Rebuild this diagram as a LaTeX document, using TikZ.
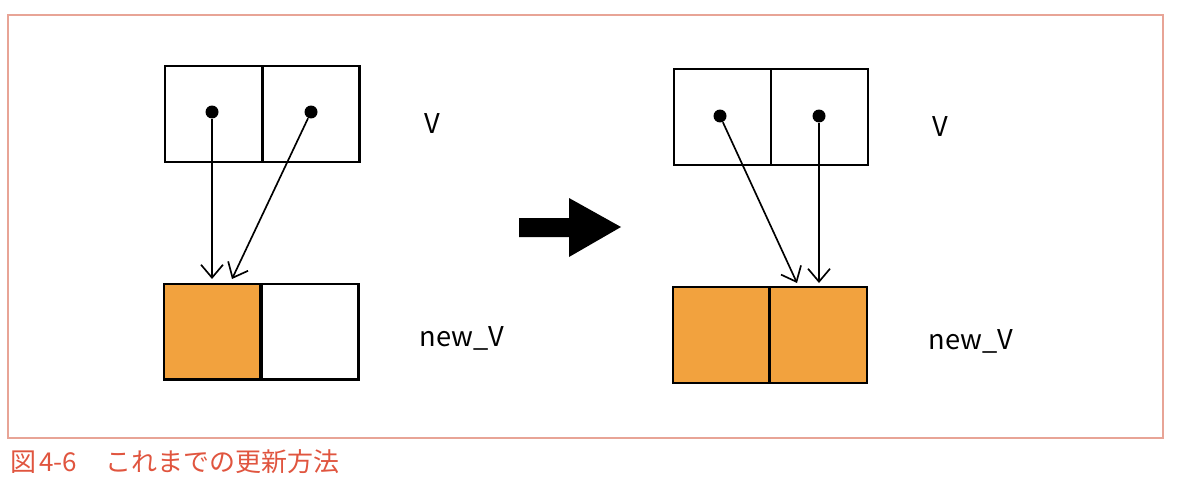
\documentclass[tikz,border=0pt]{standalone}
\usepackage{fontspec}
\setmainfont{Noto Sans CJK JP}
\usetikzlibrary{arrows.meta}
\definecolor{cellfill}{HTML}{F2A23E}
\definecolor{framecol}{HTML}{E8A496}
\definecolor{captioncol}{HTML}{E0553F}
\tikzset{
  cell/.style={draw, line width=1.15pt, minimum width=1.94cm, minimum height=1.92cm, inner sep=0pt},
  filled/.style={cell, fill=cellfill},
  dot/.style={circle, fill, inner sep=0pt, minimum size=0.26cm},
  ptr/.style={line width=0.95pt, -{Straight Barb[length=2.6mm, width=4.4mm, line width=0.95pt]}},
  lbl/.style={font=\fontsize{15.5pt}{18pt}\selectfont}
}
\begin{document}
\begin{tikzpicture}[x=0.02cm, y=-0.02cm]
\useasboundingbox (0,0) rectangle (1182,483);

\draw[framecol, line width=0.8pt] (8,15) rectangle (1163,438);

\node[cell] (lv1) at (213.5,114) {};
\node[cell] (lv2) at (311,114) {};
\node[filled] (ln1) at (212,331.5) {};
\node[cell] (ln2) at (310,331.5) {};
\node[dot] (lp1) at (212,112) {};
\node[dot] (lp2) at (311,112) {};
\coordinate (le1) at (212,279);
\coordinate (le2) at (232,279);
\draw[ptr] (lp1) -- (le1);
\draw[ptr] (lp2) -- (le2);
\node[lbl] (lvname) at (432,124) {V};
\node[lbl] (lnname) at (462,338) {new\_V};

\fill (519,218) -- (569,218) -- (569,198) -- (621,227) -- (569,257) -- (569,237) -- (519,237) -- cycle;

\node[cell] (rv1) at (722.5,117) {};
\node[cell] (rv2) at (819.5,117) {};
\node[filled] (rn1) at (721,335) {};
\node[filled] (rn2) at (818.5,335) {};
\node[dot] (rp1) at (720,116) {};
\node[dot] (rp2) at (819,116) {};
\coordinate (re1) at (797,283);
\coordinate (re2) at (819,283);
\draw[ptr] (rp1) -- (re1);
\draw[ptr] (rp2) -- (re2);
\node[lbl] (rvname) at (940,127) {V};
\node[lbl] (rnname) at (971,341) {new\_V};

\node[anchor=west, inner sep=0pt, text=captioncol, font=\fontsize{14.8pt}{17pt}\selectfont] (cap) at (10,462) {図\hspace{0.12em}4-6\hspace{1.1em}これまでの更新方法};
\end{tikzpicture}
\end{document}
